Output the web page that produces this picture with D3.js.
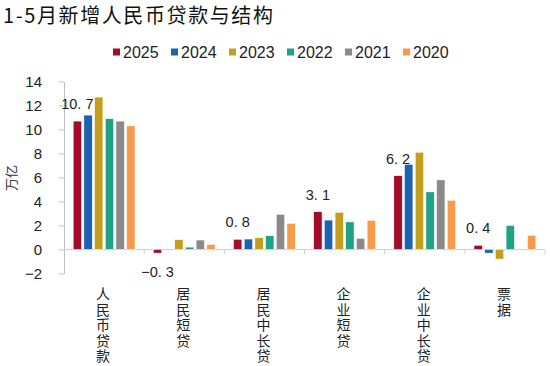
<!DOCTYPE html>
<html>
<head>
<meta charset="utf-8">
<script src="https://cdn.jsdelivr.net/npm/d3@7"></script>
<style>
  body { margin: 0; background: #fff; }
  svg { display: block; }
</style>
</head>
<body>
<div id="chart"></div>
<script>
// data (万亿)
var categories = ["人民币贷款", "居民短贷", "居民中长贷", "企业短贷", "企业中长贷", "票据"];
var years = ["2025", "2024", "2023", "2022", "2021", "2020"];
var v2025 = [10.7, -0.3, 0.85, 3.15, 6.15, 0.35];
var v2024 = [11.2, 0.0, 0.87, 2.45, 7.1, -0.3];
var v2023 = [12.7, 0.82, 0.98, 3.1, 8.1, -0.8];
var v2022 = [10.9, 0.2, 1.15, 2.3, 4.8, 2.0];
var v2021 = [10.7, 0.79, 2.93, 0.93, 5.8, 0.0];
var v2020 = [10.3, 0.43, 2.18, 2.43, 4.1, 1.18];
var labels2025 = ["10.7", "-0.3", "0.8", "3.1", "6.2", "0.4"];
var yTicks = [-2, 0, 2, 4, 6, 8, 10, 12, 14];
var colors = ["#a50a28", "#1b62b0", "#c49f1d", "#20a285", "#8a8a8a", "#f79a4a"];

var series = [v2025, v2024, v2023, v2022, v2021, v2020];

var W = 550, H = 366;
var svg = d3.select("#chart").append("svg")
    .attr("width", W)
    .attr("height", H)
    .style("font-family", "'Liberation Sans', Arial, 'Noto Sans CJK SC', sans-serif");

// title
svg.append("text")
    .attr("x", 3)
    .attr("y", 23)
    .attr("font-size", 20)
    .attr("letter-spacing", 1.6)
    .attr("fill", "#111")
    .style("font-family", "'Noto Sans CJK SC', sans-serif")
    .text("1-5月新增人民币贷款与结构");

// legend
var legend = svg.append("g").selectAll("g")
    .data(years)
    .enter().append("g")
    .attr("transform", function(d, i) { return "translate(" + (113 + i * 58) + ",48.5)"; });
legend.append("rect")
    .attr("width", 7)
    .attr("height", 7)
    .attr("fill", function(d, i) { return colors[i]; });
legend.append("text")
    .attr("x", 10)
    .attr("y", 9)
    .attr("font-size", 16)
    .attr("fill", "#222")
    .text(function(d) { return d; });

// scales
var y = d3.scaleLinear().domain([-2, 14]).range([273.5, 81.5]);
var x0 = d3.scaleBand().domain(categories).range([64, 545]);
var x1 = d3.scaleBand().domain(years).range([0, x0.bandwidth()])
    .paddingInner(0.22).paddingOuter(0.86);

// y axis
var yAxis = svg.append("g")
    .attr("transform", "translate(64,0)")
    .call(d3.axisLeft(y).tickValues(yTicks).tickSize(5).tickSizeOuter(0)
        .tickFormat(function(d) { return d < 0 ? "\u2212" + Math.abs(d) : d; }));
yAxis.select(".domain").attr("stroke", "#bfbfbf");
yAxis.selectAll(".tick line").attr("stroke", "#bfbfbf");
yAxis.selectAll(".tick text")
    .attr("x", -22)
    .attr("font-size", 15)
    .attr("fill", "#222")
    .style("font-family", "'Liberation Sans', Arial, sans-serif");

// y axis title
svg.append("text")
    .attr("transform", "translate(16,178) rotate(-90)")
    .attr("text-anchor", "middle")
    .attr("font-size", 13)
    .attr("fill", "#333")
    .style("font-family", "'Noto Sans CJK SC', sans-serif")
    .text("万亿");

// x axis line at zero with ticks at category borders
var xBorders = categories.map(function(c) { return x0(c); }).concat([x0.range()[1]]);
svg.append("line")
    .attr("x1", 64).attr("x2", 545)
    .attr("y1", y(0)).attr("y2", y(0))
    .attr("stroke", "#d0d0d0");
svg.append("g").selectAll("line")
    .data(xBorders.slice(1))
    .enter().append("line")
    .attr("x1", function(d) { return d; })
    .attr("x2", function(d) { return d; })
    .attr("y1", y(0))
    .attr("y2", y(0) + 5)
    .attr("stroke", "#d0d0d0");

// bars
var groups = svg.append("g").selectAll("g")
    .data(categories)
    .enter().append("g")
    .attr("transform", function(d) { return "translate(" + x0(d) + ",0)"; });
groups.selectAll("rect")
    .data(function(d, ci) { return years.map(function(yr, si) { return {year: yr, value: series[si][ci], si: si}; }); })
    .enter().append("rect")
    .attr("x", function(d) { return x1(d.year); })
    .attr("y", function(d) { return y(Math.max(0, d.value)); })
    .attr("width", x1.bandwidth())
    .attr("height", function(d) { return Math.abs(y(d.value) - y(0)); })
    .attr("fill", function(d) { return colors[d.si]; })
    .attr("stroke", "#fff")
    .attr("stroke-width", 0.5);

// data labels for 2025
svg.append("g").selectAll("text")
    .data(categories)
    .enter().append("text")
    .attr("x", function(d) { return x0(d) + x1("2025") + x1.bandwidth() / 2; })
    .attr("y", function(d, i) { return v2025[i] >= 0 ? y(v2025[i]) - 12 : y(v2025[i]) + 24; })
    .attr("text-anchor", "middle")
    .attr("font-size", 14.5)
    .attr("fill", "#222")
    .text(function(d, i) { return labels2025[i].replace(".", ". ").replace("-", "\u2212"); });

// category labels, vertical text
svg.append("g").selectAll("text")
    .data(categories)
    .enter().append("text")
    .attr("x", function(d) { return x0(d) + x0.bandwidth() / 2 - 1; })
    .attr("y", 287)
    .attr("font-size", 14)
    .attr("letter-spacing", 1.5)
    .attr("fill", "#222")
    .style("writing-mode", "vertical-rl")
    .style("text-orientation", "upright")
    .style("font-family", "'Noto Sans CJK SC', sans-serif")
    .text(function(d) { return d; });
</script>
</body>
</html>
